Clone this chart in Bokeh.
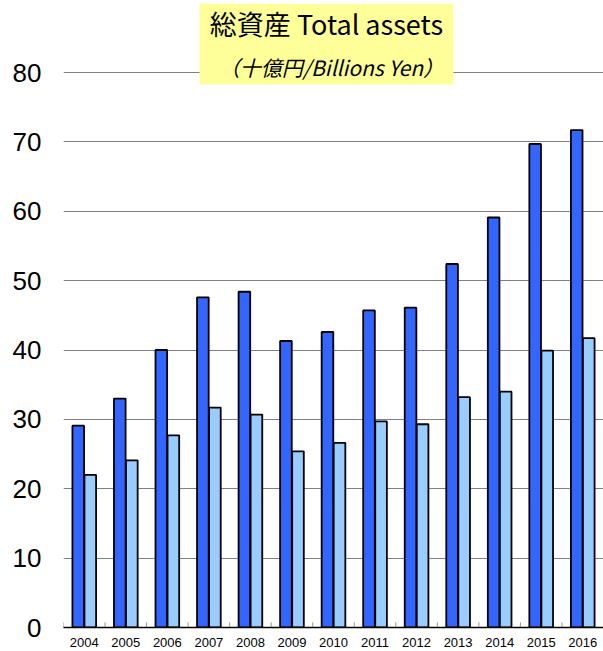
from bokeh.plotting import figure
from bokeh.models import FactorRange, Range1d, BoxAnnotation, Label, ColumnDataSource, FixedTicker
from bokeh.transform import dodge
from bokeh.embed import file_html
from bokeh.resources import INLINE

years = [str(y) for y in range(2004, 2017)]
series_dark = [29.1, 33.0, 40.0, 47.6, 48.4, 41.3, 42.6, 45.7, 46.1, 52.4, 59.1, 69.7, 71.7]
series_light = [22.0, 24.1, 27.7, 31.7, 30.7, 25.4, 26.6, 29.7, 29.3, 33.2, 34.0, 39.9, 41.7]
y_ticks = [0, 10, 20, 30, 40, 50, 60, 70, 80]
title_main = "総資産 Total assets"
title_sub = "（十億円/Billions Yen）"

src = ColumnDataSource(dict(year=years, dark=series_dark, light=series_light))

# y range extends above 80 so the title box (inside the frame) is not clipped
p = figure(x_range=FactorRange(*years), y_range=Range1d(0, 89.95),
           width=603, height=651, output_backend="svg", toolbar_location=None,
           min_border_left=63, min_border_right=0, min_border_top=3, min_border_bottom=24)
p.outline_line_color = None
p.background_fill_color = "white"
p.xgrid.grid_line_color = None
p.ygrid.grid_line_color = "#808080"
p.ygrid.grid_line_width = 1
p.yaxis.ticker = FixedTicker(ticks=y_ticks)
p.ygrid.ticker = FixedTicker(ticks=y_ticks)
p.yaxis.axis_line_color = None
p.yaxis.major_tick_line_color = None
p.yaxis.minor_tick_line_color = None
p.yaxis.major_tick_in = 0
p.yaxis.major_tick_out = 0
p.yaxis.major_label_text_font = "Liberation Sans"
p.yaxis.major_label_text_font_size = "26px"
p.yaxis.major_label_text_color = "black"
p.yaxis.major_label_standoff = 22

p.xaxis.axis_line_color = "black"
p.xaxis.axis_line_width = 1.5
p.xaxis.major_tick_line_color = None
p.xaxis.major_tick_in = 0
p.xaxis.major_tick_out = 0
p.xaxis.major_label_text_font = "Liberation Sans"
p.xaxis.major_label_text_font_size = "13px"
p.xaxis.major_label_text_color = "black"
p.xaxis.major_label_standoff = 10

# small boundary ticks between categories
bounds = list(range(len(years)))
p.segment(x0=bounds, y0=[0] * len(bounds), x1=bounds, y1=[0.75] * len(bounds),
          line_color="#999999", line_width=1)

p.vbar(x=dodge('year', -0.145, range=p.x_range), top='dark', width=0.28, source=src,
       fill_color="#3366FF", line_color="black", line_width=1.8)
p.vbar(x=dodge('year', 0.145, range=p.x_range), top='light', width=0.28, source=src,
       fill_color="#99CCFF", line_color="black", line_width=1.8)

box = BoxAnnotation(left=3.274, right=9.389, top=89.95, bottom=78.27,
                    fill_color="#FFFF99", fill_alpha=1.0, line_color=None, level="overlay")
p.add_layout(box)
p.add_layout(Label(x=6.33, y=87.06, text=title_main, text_align="center", text_baseline="middle",
                   text_font="Noto Sans CJK JP", text_font_size="27px", text_color="black",
                   level="overlay"))
p.add_layout(Label(x=6.45, y=80.86, text=title_sub, text_align="center", text_baseline="middle",
                   text_font="Noto Sans CJK JP", text_font_size="21px", text_font_style="italic",
                   text_color="black", level="overlay"))

open("out.html", "w").write(file_html(p, INLINE))
